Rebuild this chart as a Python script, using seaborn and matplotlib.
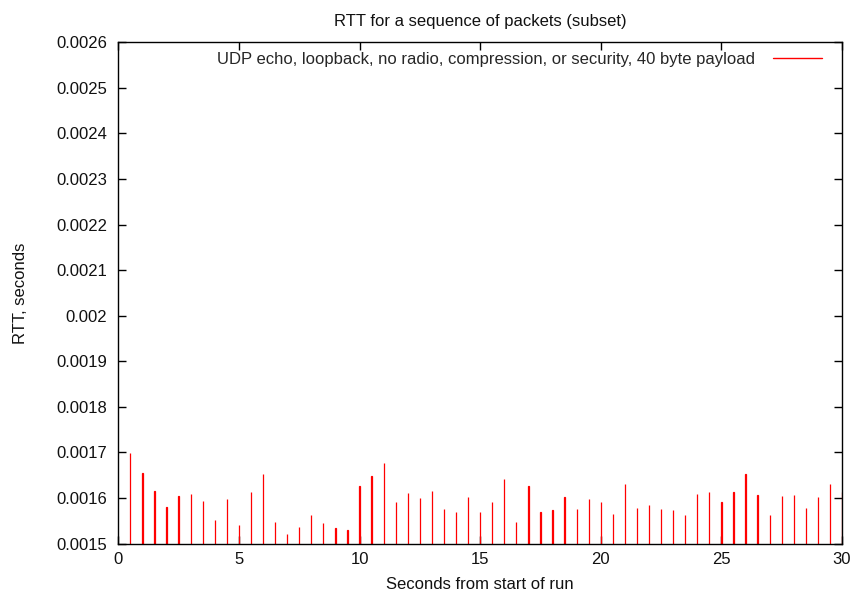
import matplotlib
matplotlib.use("Agg")
import matplotlib.pyplot as plt
from matplotlib.lines import Line2D
import seaborn as sns
import pandas as pd

# ---- data ----
seconds = [0.5, 1.0, 1.5, 2.0, 2.5, 3.0, 3.5, 4.0, 4.5, 5.0,
           5.5, 6.0, 6.5, 7.0, 7.5, 8.0, 8.5, 9.0, 9.5, 10.0,
           10.5, 11.0, 11.5, 12.0, 12.5, 13.0, 13.5, 14.0, 14.5, 15.0,
           15.5, 16.0, 16.5, 17.0, 17.5, 18.0, 18.5, 19.0, 19.5, 20.0,
           20.5, 21.0, 21.5, 22.0, 22.5, 23.0, 23.5, 24.0, 24.5, 25.0,
           25.5, 26.0, 26.5, 27.0, 27.5, 28.0, 28.5, 29.0, 29.5, 30.0]
rtt = [0.001699, 0.001654, 0.001616, 0.001580, 0.001604, 0.001609, 0.001593, 0.001551, 0.001598, 0.001541,
       0.001613, 0.001653, 0.001547, 0.001521, 0.001537, 0.001563, 0.001544, 0.001533, 0.001530, 0.001627,
       0.001648, 0.001677, 0.001592, 0.001610, 0.001600, 0.001616, 0.001575, 0.001570, 0.001603, 0.001569,
       0.001591, 0.001642, 0.001548, 0.001627, 0.001570, 0.001573, 0.001603, 0.001575, 0.001598, 0.001591,
       0.001564, 0.001631, 0.001578, 0.001584, 0.001575, 0.001574, 0.001562, 0.001609, 0.001612, 0.001591,
       0.001613, 0.001652, 0.001607, 0.001562, 0.001604, 0.001607, 0.001578, 0.001603, 0.001630, 0.001614]
x_ticks = [0, 5, 10, 15, 20, 25, 30]
y_ticks = [0.0015, 0.0016, 0.0017, 0.0018, 0.0019, 0.0020, 0.0021, 0.0022, 0.0023, 0.0024, 0.0025, 0.0026]
y_tick_labels = ["0.0015", "0.0016", "0.0017", "0.0018", "0.0019", "0.002",
                 "0.0021", "0.0022", "0.0023", "0.0024", "0.0025", "0.0026"]
series_label = "UDP echo, loopback, no radio, compression, or security, 40 byte payload"
title = "RTT for a sequence of packets (subset)"
x_label = "Seconds from start of run"
y_label = "RTT, seconds"

df = pd.DataFrame({"t": seconds, "rtt": rtt})

sns.set_theme(style="white")
plt.rcParams["font.family"] = ["Liberation Sans", "DejaVu Sans"]

fig = plt.figure(figsize=(8.55, 5.97), dpi=100)
ax = fig.add_axes([118.3 / 855, (597 - 543.5) / 597, (842 - 118.3) / 855, (543.5 - 42.3) / 597])

sns.barplot(data=df, x="t", y="rtt", native_scale=True, width=0.02,
            color="#ff0000", saturation=1, edgecolor="#ff0000", linewidth=0.9,
            ax=ax, errorbar=None)

ax.set_xlim(0, 30)
ax.set_ylim(0.0015, 0.0026)
ax.set_xticks(x_ticks)
ax.set_xticklabels([str(v) for v in x_ticks])
ax.set_yticks(y_ticks)
ax.set_yticklabels(y_tick_labels)

fs = 12
ax.tick_params(axis="both", which="major", direction="in", length=5.5, width=1,
               color="black", labelsize=fs, labelcolor="#111111",
               top=True, right=True, bottom=True, left=True)
ax.tick_params(axis="x", pad=6)
ax.tick_params(axis="y", pad=8)
for s in ax.spines.values():
    s.set_visible(True)
    s.set_color("black")
    s.set_linewidth(1.0)
    s.set_zorder(5)

ax.set_title(title, fontsize=fs, pad=12, color="#111111")
ax.set_xlabel(x_label, fontsize=fs, labelpad=7, color="#111111")
ax.set_ylabel(y_label, fontsize=fs, labelpad=20, color="#111111")

handle = Line2D([], [], color="#ff0000", linewidth=1.0)
leg = ax.legend([handle], [series_label], loc="upper right", frameon=False,
                markerfirst=False, fontsize=fs, handlelength=2.9,
                handletextpad=1.08, borderaxespad=0.0,
                bbox_to_anchor=(0.981, 0.9946))

fig.savefig("out.png", dpi=100)
